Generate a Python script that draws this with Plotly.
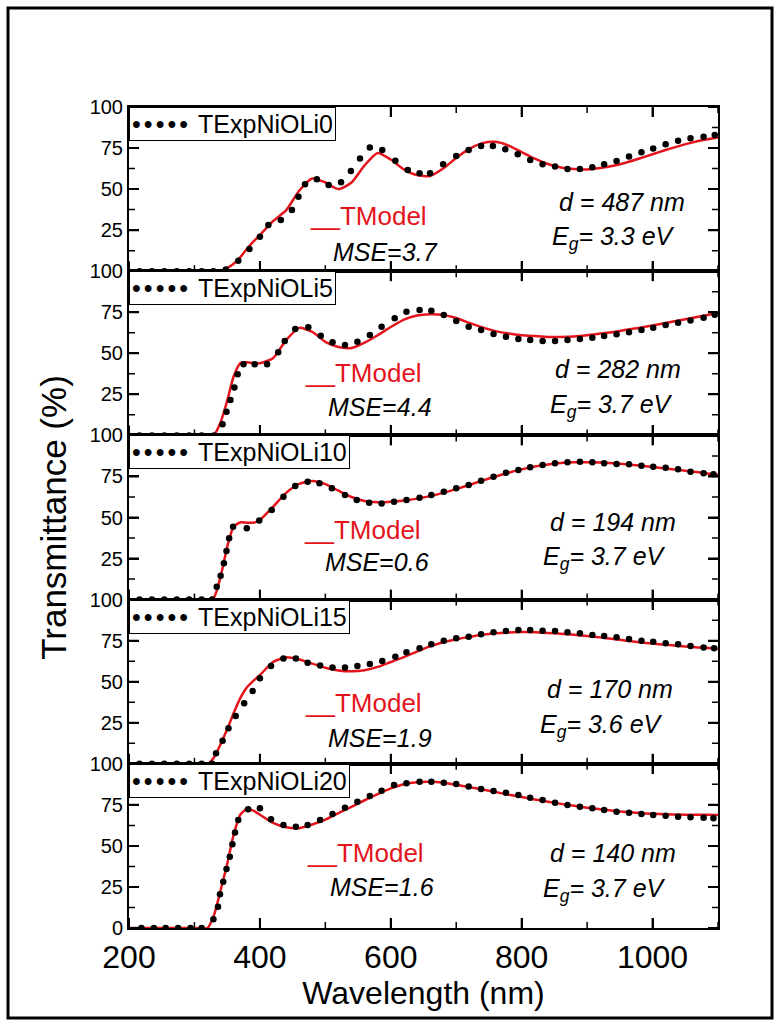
import plotly.graph_objects as go
from plotly.subplots import make_subplots

# ---------------- data ----------------
samples = ["TExpNiOLi0", "TExpNiOLi5", "TExpNiOLi10", "TExpNiOLi15", "TExpNiOLi20"]
thickness_nm = ["487", "282", "194", "170", "140"]
eg_ev = ["3.3", "3.7", "3.7", "3.6", "3.7"]
mse_vals = ["3.7", "4.4", "0.6", "1.9", "1.6"]

# tick values
x_major = [200, 400, 600, 800, 1000]
x_minor = [300, 500, 700, 900, 1100]
y_major = [0, 25, 50, 75, 100]
y_minor = [12.5, 37.5, 62.5, 87.5]

# experimental transmittance (dotted curve), wavelength in nm, T in %
exp_wl_0 = [216, 235, 254, 273, 292, 311, 329, 348, 367, 384, 400, 413, 432, 449, 459, 469, 487, 505, 524, 539,
            553, 568, 587, 607, 626, 644, 660, 680, 700, 719, 738, 756, 775, 794, 813, 832, 851, 870, 889, 908,
            926, 945, 964, 983, 1001, 1020, 1039, 1058, 1078, 1095]
exp_T_0 = [0, 0, 0, 0, 0, 0, 0, 1.0, 6.4, 13.5, 21, 28.1, 31.2, 37.3, 45.4, 52.9, 56, 52.5, 54.1, 61,
           68.7, 75.4, 73.8, 67.3, 61.6, 59.6, 59.6, 65.1, 70.2, 73.8, 76.2, 76.2, 74.2, 71.2, 67.7, 65.1, 63.7, 62.2, 62.2, 63.3,
           65.1, 67.1, 69.8, 72.4, 74.8, 77.3, 79.5, 80.9, 81.9, 83]
exp_wl_1 = [216, 235, 254, 273, 292, 311, 330, 343, 349, 355, 361, 366, 375, 392, 411, 428, 438, 454, 474, 493,
            511, 530, 549, 568, 586, 606, 624, 644, 662, 681, 700, 719, 738, 757, 776, 795, 813, 832, 851, 870,
            889, 908, 926, 945, 964, 983, 1001, 1020, 1039, 1058, 1078, 1095]
exp_T_1 = [0, 0, 0, 0, 0, 0, 0, 6.8, 14.4, 21.6, 29.1, 37.2, 43.3, 43.3, 43.3, 50.6, 57.5, 64.8, 65.8, 60.7,
           56.7, 55, 57.1, 61.1, 66.2, 71.3, 75.3, 76.4, 75.9, 73.3, 69.7, 66.2, 64.2, 61.8, 60.1, 58.7, 58.1, 57.5, 57.5, 58.1,
           58.7, 59.5, 60.5, 61.6, 62.8, 64.2, 65.6, 67.2, 68.6, 69.9, 71.7, 73.5]
exp_wl_2 = [216, 235, 254, 273, 292, 311, 327, 334, 340, 345, 349, 353, 359, 380, 399, 418, 436, 454, 473, 491,
            510, 530, 548, 567, 586, 605, 624, 644, 662, 681, 700, 719, 738, 757, 776, 795, 813, 832, 851, 870,
            889, 908, 926, 945, 964, 983, 1001, 1020, 1039, 1058, 1078, 1093]
exp_T_2 = [0, 0, 0, 0, 0, 0, 0, 7.9, 14.6, 22.1, 29.6, 37.3, 44.4, 43.4, 48.1, 54.6, 62.7, 69.2, 71.8, 70.8,
           67.8, 63.7, 60.7, 59, 58.6, 59.6, 60.7, 62.1, 63.7, 65.7, 67.8, 69.8, 72.4, 74.8, 77.3, 78.9, 80.6, 82, 83, 83.6,
           84, 83.6, 83, 82.6, 82.4, 81.5, 80.9, 80.3, 79.4, 77.9, 76.9, 76.3]
exp_wl_3 = [216, 235, 254, 273, 292, 311, 327, 333, 343, 352, 363, 376, 389, 400, 417, 436, 455, 473, 492, 511,
            530, 549, 568, 587, 607, 624, 644, 662, 681, 700, 719, 738, 757, 776, 795, 813, 832, 851, 870, 889,
            908, 926, 945, 964, 983, 1001, 1020, 1039, 1058, 1078, 1094]
exp_T_3 = [0, 0, 0, 0, 0, 0, 0, 6.4, 14.1, 21.6, 29.1, 36.8, 44.3, 52.1, 59.6, 64.2, 64.2, 61.6, 59.8, 58.6,
           58.6, 59.6, 60.8, 62.6, 65.2, 67.9, 70.3, 72.8, 75, 76.4, 77.4, 78.9, 80.1, 80.9, 81.5, 81.5, 81.1, 80.9, 80.1, 79.5,
           78.4, 77.8, 77, 76, 75, 74.4, 73.4, 72.8, 71.7, 70.9, 70.3]
exp_wl_4 = [219, 238, 256, 275, 294, 311, 329, 336, 339, 344, 349, 354, 358, 362, 367, 382, 400, 417, 436, 455,
            473, 492, 511, 530, 549, 568, 586, 605, 624, 644, 662, 681, 700, 719, 738, 757, 776, 795, 813, 832,
            851, 870, 889, 908, 926, 945, 964, 983, 1001, 1020, 1039, 1058, 1078, 1093]
exp_T_4 = [0, 0, 0, 0, 0, 0, 5.3, 13, 20.5, 28.2, 35.9, 43.4, 51, 58.1, 65.8, 72.3, 72.9, 66.2, 62.7, 61.7,
           62.7, 65.8, 69.4, 73.3, 76.9, 80.4, 83.6, 87.1, 88.1, 89.1, 89.1, 88.5, 87.7, 86.1, 84.7, 83.4, 82.4, 81, 79.4, 78,
           76.3, 74.9, 73.9, 72.9, 71.9, 70.8, 70.2, 69.4, 68.8, 68.4, 67.8, 67.4, 67.2, 66.9]

# model transmittance (TModel, red line)
model_wl = [200, 300, 320, 330, 340, 350, 360, 370, 380, 390, 400, 420, 440, 460, 480, 500, 520, 540, 560, 580,
            600, 620, 640, 660, 680, 700, 720, 740, 760, 780, 800, 820, 840, 860, 880, 900, 920, 940, 960, 980,
            1000, 1020, 1040, 1060, 1080, 1100]
model_T_0 = [0, 0, 0, 0, 0.3, 2, 4.5, 8.5, 13.5, 18, 22, 30.5, 37, 49, 56.5, 54, 50, 54, 64.5, 72,
             68, 62, 58.5, 58, 62.5, 69, 74.5, 78, 78.8, 76.5, 72.5, 68.5, 65.3, 63.2, 62.2, 62, 62.8, 64.2, 66.2, 68.6,
             71.2, 73.8, 76.2, 78.3, 80, 81.5]
model_T_1 = [0, 0, 0, 0.5, 8, 21, 36, 44, 44.5, 44, 44, 47, 58, 65.5, 63, 57, 53.8, 53.2, 56.5, 61,
             66, 70.5, 73, 73.8, 73.4, 71.5, 68.5, 65.8, 63.5, 62, 61, 60.5, 60, 60, 60.3, 61, 62, 63, 64.3, 65.5,
             67, 68.5, 70, 71.5, 73, 74.5]
model_T_2 = [0, 0, 0, 1.5, 14, 32, 44.5, 47, 46.8, 46.8, 48.5, 56.5, 65, 70.5, 72.2, 70.3, 66.3, 62.5, 60, 59.3,
             59.6, 60.4, 61.5, 63, 65, 67.3, 69.8, 72.5, 75, 77.3, 79.3, 81, 82.3, 83.2, 83.6, 83.7, 83.5, 83, 82.4, 81.6,
             80.8, 79.9, 79, 78, 77, 76]
model_T_3 = [0, 0, 0, 4, 12, 21, 31, 40, 46.5, 50.5, 54, 62, 64.8, 63.5, 61, 58.5, 56.8, 56.3, 57, 59,
             62, 65, 68.3, 71.5, 74, 75.8, 77.3, 78.6, 79.5, 80, 80.2, 80.1, 79.7, 79.2, 78.6, 77.8, 77, 76, 75, 74,
             73.2, 72.5, 71.8, 71.2, 70.6, 70]
model_T_4 = [0, 0, 0, 8, 23, 39, 57, 69, 72.5, 71.5, 69, 64, 61.3, 60.8, 63, 66, 70, 73.8, 77.8, 81.5,
             85, 87.5, 88.8, 89, 88.5, 87.2, 85.8, 84.3, 82.8, 81.2, 79.8, 78.3, 76.9, 75.6, 74.4, 73.3, 72.3, 71.4, 70.6, 70,
             69.6, 69.3, 69.1, 69, 68.9, 68.8]

exp_wl = [exp_wl_0, exp_wl_1, exp_wl_2, exp_wl_3, exp_wl_4]
exp_T = [exp_T_0, exp_T_1, exp_T_2, exp_T_3, exp_T_4]
model_T = [model_T_0, model_T_1, model_T_2, model_T_3, model_T_4]

# ---------------- figure ----------------
FONT = "Liberation Sans, Arial, Helvetica, sans-serif"
RED = "#e3141c"
W, H = 782, 1025
ML, MR, MT, MB = 129, 64, 107, 97
plot_w = W - ML - MR
panel_h = (H - MT - MB) / 5.0

fig = make_subplots(rows=5, cols=1, shared_xaxes=True, vertical_spacing=0)

for i in range(5):
    r = i + 1
    fig.add_trace(go.Scatter(x=model_wl, y=model_T[i], mode="lines", name="TModel",
                             line=dict(color=RED, width=2.5, shape="spline", smoothing=0.6),
                             showlegend=False), row=r, col=1)
    fig.add_trace(go.Scatter(x=exp_wl[i], y=exp_T[i], mode="markers", name=samples[i],
                             marker=dict(color="black", size=6.5, line=dict(width=0)),
                             showlegend=False), row=r, col=1)

for i in range(5):
    r = i + 1
    fig.update_xaxes(row=r, col=1, range=[200, 1100], showline=True, linecolor="black", linewidth=2,
                     mirror="ticks", ticks="inside", ticklen=10, tickwidth=2, tickcolor="black",
                     tickmode="array", tickvals=x_major, ticktext=[str(v) for v in x_major],
                     showgrid=False, zeroline=False,
                     showticklabels=(r == 5), tickfont=dict(family=FONT, size=32, color="black"))
    ttext = ["0" if r == 5 else " ", "25", "50", "75", "100"]
    fig.update_yaxes(row=r, col=1, range=[0, 100], showline=True, linecolor="black", linewidth=2,
                     mirror="ticks", ticks="inside", ticklen=10, tickwidth=2, tickcolor="black",
                     tickmode="array", tickvals=y_major, ticktext=ttext,
                     showgrid=False, zeroline=False,
                     tickfont=dict(family=FONT, size=20, color="black"))

fig.update_xaxes(row=5, col=1, title=dict(text="Wavelength (nm)", font=dict(family=FONT, size=32, color="black"), standoff=2))
fig.update_yaxes(row=3, col=1, title=dict(text="Transmittance (%)", font=dict(family=FONT, size=35, color="black"), standoff=12))

# inward minor/major tick marks on all four sides of every panel, placed through each panel's axes
shapes = []
for i in range(5):
    xr = "x" if i == 0 else f"x{i+1}"
    yr = "y" if i == 0 else f"y{i+1}"
    for vals, ln, wd in ((x_major, 10, 2), (x_minor, 6, 1.5)):
        fy = ln / panel_h
        for v in vals:
            shapes.append(dict(type="line", xref=xr, yref=f"{yr} domain", x0=v, x1=v, y0=0, y1=fy,
                               line=dict(color="black", width=wd), layer="above"))
            shapes.append(dict(type="line", xref=xr, yref=f"{yr} domain", x0=v, x1=v, y0=1 - fy, y1=1,
                               line=dict(color="black", width=wd), layer="above"))
    for vals, ln, wd in ((y_major, 10, 2), (y_minor, 6, 1.5)):
        fx = ln / plot_w
        for v in vals:
            shapes.append(dict(type="line", xref=f"{xr} domain", yref=yr, x0=0, x1=fx, y0=v, y1=v,
                               line=dict(color="black", width=wd), layer="above"))
            shapes.append(dict(type="line", xref=f"{xr} domain", yref=yr, x0=1 - fx, x1=1, y0=v, y1=v,
                               line=dict(color="black", width=wd), layer="above"))

# outer frame of the figure
shapes.append(dict(type="rect", xref="paper", yref="paper", x0=-0.2054, x1=1.0917, y0=-0.1096, y1=1.1206,
                   line=dict(color="black", width=3), layer="above"))

# text placement per panel (data coordinates inside each panel)
tmodel_pos = [(473, 33.5), (466, 38), (464, 42.4), (466, 37), (469, 45.7)]
mse_pos = [(508, 11.7), (501, 17), (497, 22.6), (501, 16), (504, 24.7)]
d_pos = [(1053, 42.3), (1047, 40.4), (1039, 47), (1034, 45.6), (1039, 45.5)]
eg_pos = [(1037, 20), (1034, 17.9), (1024, 25.2), (1019, 23.1), (1024, 23.1)]

dot = "\u2022"
gap = "<span style='font-size:11px'>\u00a0</span>"
annotations = []
for i in range(5):
    xr = "x" if i == 0 else f"x{i+1}"
    yr = "y" if i == 0 else f"y{i+1}"
    legend_txt = gap.join([dot] * 5) + "\u00a0" + gap + samples[i]
    annotations.append(dict(xref=f"{xr} domain", yref=f"{yr} domain", x=0, y=1, xanchor="left", yanchor="top",
                            text=legend_txt, showarrow=False, bgcolor="white", bordercolor="black", borderwidth=1,
                            borderpad=2, font=dict(family=FONT, size=25, color="black"), align="left"))
    annotations.append(dict(xref=xr, yref=yr, x=tmodel_pos[i][0], y=tmodel_pos[i][1], xanchor="left", yanchor="middle",
                            text="__TModel", showarrow=False, font=dict(family=FONT, size=26, color=RED)))
    annotations.append(dict(xref=xr, yref=yr, x=mse_pos[i][0], y=mse_pos[i][1], xanchor="left", yanchor="middle",
                            text=f"<i>MSE</i>=<i>{mse_vals[i]}</i>", showarrow=False,
                            font=dict(family=FONT, size=25, color="black")))
    annotations.append(dict(xref=xr, yref=yr, x=d_pos[i][0], y=d_pos[i][1], xanchor="right", yanchor="middle",
                            text=f"<i>d = {thickness_nm[i]} nm</i>", showarrow=False,
                            font=dict(family=FONT, size=25, color="black")))
    annotations.append(dict(xref=xr, yref=yr, x=eg_pos[i][0], y=eg_pos[i][1], xanchor="right", yanchor="middle",
                            text=f"<i>E<sub>g</sub>= {eg_ev[i]} eV</i>", showarrow=False,
                            font=dict(family=FONT, size=25, color="black")))

fig.update_layout(
    width=W, height=H,
    margin=dict(l=ML, r=MR, t=MT, b=MB, autoexpand=False),
    paper_bgcolor="white", plot_bgcolor="white",
    showlegend=False,
    font=dict(family=FONT, color="black"),
    annotations=annotations,
    shapes=shapes,
)

fig.write_html("out.html")
